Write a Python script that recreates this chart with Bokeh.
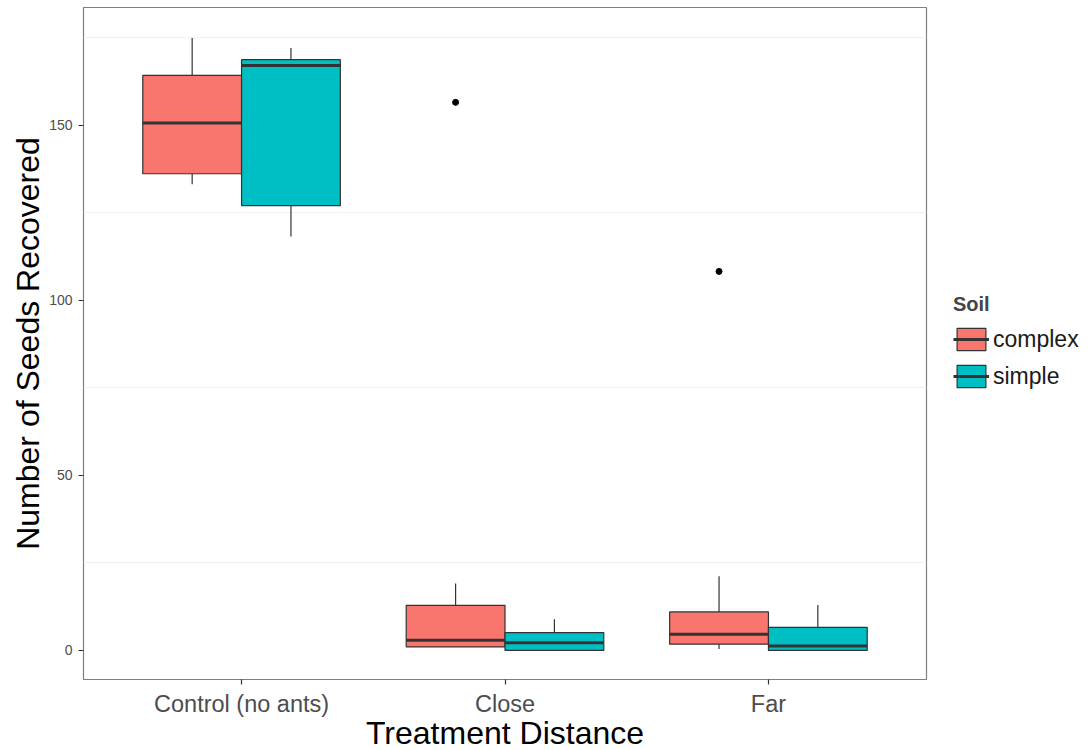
from bokeh.plotting import figure
from bokeh.models import ColumnDataSource, FixedTicker, Legend, LegendItem, Range1d
from bokeh.embed import file_html
from bokeh.resources import INLINE

# ---------------- data ----------------
categories = ["Control (no ants)", "Close", "Far"]
soil_types = ["complex", "simple"]

complex_low = [133.2, 1.0, 0.4]
complex_q1 = [136.2, 1.0, 1.8]
complex_med = [150.7, 2.9, 4.6]
complex_q3 = [164.3, 12.9, 11.0]
complex_high = [175.0, 19.1, 21.2]

simple_low = [118.3, 0.0, 0.0]
simple_q1 = [127.1, 0.0, 0.0]
simple_med = [167.1, 2.2, 1.3]
simple_q3 = [168.8, 5.1, 6.6]
simple_high = [172.1, 8.9, 13.0]

outlier_cat = ["Close", "Far"]
outlier_soil = ["complex", "complex"]
outlier_val = [156.6, 108.3]

y_ticks = [0, 50, 100, 150]
y_minor_grid = [25, 75, 125, 175]

soil_colors = {"complex": "#F8766D", "simple": "#00BFC4"}

stats = {
    "complex": (complex_low, complex_q1, complex_med, complex_q3, complex_high),
    "simple": (simple_low, simple_q1, simple_med, simple_q3, simple_high),
}

# ---------------- figure ----------------
FONT = "Liberation Sans"
p = figure(
    frame_width=843, frame_height=672,
    x_range=Range1d(0.4, 3.6), y_range=Range1d(-8.3, 183.7),
    output_backend="svg", toolbar_location=None,
    min_border_left=83, min_border_right=163, min_border_top=7, min_border_bottom=71,
)
p.background_fill_color = "white"
p.border_fill_color = "white"
p.outline_line_color = "#7f7f7f"
p.outline_line_width = 1.2

cat_pos = {c: i + 1 for i, c in enumerate(categories)}
box_w = 0.375
offsets = {"complex": -box_w / 2, "simple": box_w / 2}
edge = "#333333"

legend_items = []
for s in soil_types:
    low, q1, med, q3, high = stats[s]
    xs = [cat_pos[c] + offsets[s] for c in categories]
    src = ColumnDataSource(dict(
        x=xs, x0=[x - box_w / 2 for x in xs], x1=[x + box_w / 2 for x in xs],
        low=low, q1=q1, med=med, q3=q3, high=high,
    ))
    p.segment(x0="x", x1="x", y0="q3", y1="high", source=src, line_color=edge, line_width=1.2)
    p.segment(x0="x", x1="x", y0="q1", y1="low", source=src, line_color=edge, line_width=1.2)
    box_r = p.vbar(x="x", width=box_w, bottom="q1", top="q3", source=src,
                   fill_color=soil_colors[s], line_color=edge, line_width=1.2)
    med_r = p.segment(x0="x0", x1="x1", y0="med", y1="med", source=src,
                      line_color=edge, line_width=3)
    legend_items.append(LegendItem(label=s, renderers=[box_r, med_r]))

ox = [cat_pos[c] + offsets[s] for c, s in zip(outlier_cat, outlier_soil)]
p.scatter(x=ox, y=outlier_val, size=6, color="black")

# ---------------- axes & grid ----------------
p.xgrid.visible = False
p.ygrid.ticker = FixedTicker(ticks=y_minor_grid)
p.ygrid.grid_line_color = "#f0f0f0"
p.ygrid.grid_line_width = 1.2

p.xaxis.ticker = FixedTicker(ticks=[cat_pos[c] for c in categories])
p.xaxis.major_label_overrides = {cat_pos[c]: c for c in categories}
p.yaxis.ticker = FixedTicker(ticks=y_ticks)

for ax in (p.xaxis[0], p.yaxis[0]):
    ax.axis_line_color = None
    ax.major_tick_line_color = edge
    ax.major_tick_line_width = 1.2
    ax.major_tick_in = 0
    ax.major_tick_out = 5
    ax.minor_tick_line_color = None
    ax.major_label_text_font = FONT
    ax.major_label_text_color = "#4d4d4d"
    ax.axis_label_text_font = FONT
    ax.axis_label_text_font_style = "normal"
    ax.axis_label_text_color = "black"
    ax.axis_label_text_font_size = "32px"

p.xaxis.axis_label = "Treatment Distance"
p.yaxis.axis_label = "Number of Seeds Recovered"
p.xaxis.major_label_text_font_size = "23.5px"
p.yaxis.major_label_text_font_size = "14px"
p.xaxis.major_label_standoff = 6
p.xaxis.axis_label_standoff = -5
p.yaxis.major_label_standoff = 6
p.yaxis.axis_label_standoff = 0

# ---------------- legend (side panel, right of the plot panel) ----------------
legend = Legend(items=legend_items, location=(27, 289))
legend.title = "Soil"
legend.title_text_font = FONT
legend.title_text_font_style = "bold"
legend.title_text_font_size = "20px"
legend.title_standoff = 9
legend.label_text_font = FONT
legend.label_text_font_size = "23px"
legend.label_text_color = "#1a1a1a"
legend.glyph_width = 36
legend.glyph_height = 28
legend.spacing = 9
legend.label_standoff = 4
legend.padding = 0
legend.margin = 0
legend.border_line_color = None
legend.background_fill_alpha = 0
p.add_layout(legend, "right")

open("out.html", "w").write(file_html(p, INLINE))
